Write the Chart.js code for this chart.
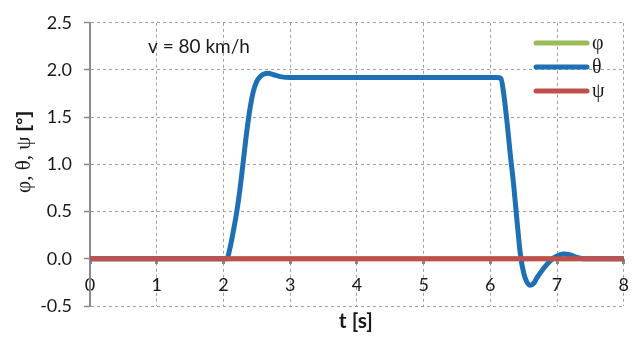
<!DOCTYPE html>
<html><head><meta charset="utf-8">
<script src="https://cdn.jsdelivr.net/npm/chart.js@4/dist/chart.umd.min.js"></script>
<style>html,body{margin:0;padding:0;background:#fff}#wrap{width:640px;height:338px}</style>
</head><body><div id="wrap"><canvas id="c" width="640" height="338"></canvas></div>
<script>
const seriesNames = ['φ', 'θ', 'ψ'];
const seriesColors = ['#9bbb59', '#1f6fb5', '#c0504d'];
const xTicks = [0, 1, 2, 3, 4, 5, 6, 7, 8];
const yTicks = [-0.5, 0, 0.5, 1, 1.5, 2, 2.5];
const annotation = 'v = 80 km/h';
const xTitle = 't [s]';
const yTitleGreek = 'φ, θ, ψ ';
const yTitleUnit = '[°]';
const phiT = [0, 8];
const phiV = [0, 0];
const psiT = [0, 8];
const psiV = [0, 0];
const thetaT = [0, 2.0, 2.05, 2.1, 2.15, 2.2, 2.25, 2.3, 2.35, 2.4, 2.45, 2.5, 2.55, 2.6, 2.67, 2.75, 2.85, 3.0, 4, 5, 6.1, 6.16, 6.2, 6.25, 6.3, 6.35, 6.4, 6.45, 6.5, 6.55, 6.6, 6.65, 6.7, 6.8, 6.9, 6.95, 7.05, 7.1, 7.2, 7.3, 7.4, 8];
const thetaV = [0, 0, 0, 0.12, 0.3, 0.5, 0.75, 1.05, 1.35, 1.6, 1.78, 1.88, 1.93, 1.955, 1.965, 1.95, 1.93, 1.92, 1.92, 1.92, 1.92, 1.91, 1.75, 1.45, 1.1, 0.78, 0.4, 0.05, -0.15, -0.25, -0.28, -0.26, -0.2, -0.1, -0.02, 0.01, 0.045, 0.05, 0.04, 0.015, 0, 0];

const pts = (t, v) => t.map((x, i) => ({x: x, y: v[i]}));

const overlay = {
  id: 'overlay',
  afterDatasetsDraw(chart) {
    const ctx = chart.ctx;
    const ca = chart.chartArea;
    ctx.save();
    ctx.fillStyle = '#1a1a1a';
    ctx.font = '19px Lato, "Open Sans", sans-serif';
    ctx.textBaseline = 'middle';
    ctx.textAlign = 'left';
    ctx.fillText(annotation, 148, 47);
    const ys = [43, 67, 91];
    seriesNames.forEach((n, i) => {
      ctx.strokeStyle = seriesColors[i];
      ctx.lineWidth = 5;
      ctx.lineCap = 'round';
      ctx.beginPath();
      ctx.moveTo(536, ys[i]);
      ctx.lineTo(587, ys[i]);
      ctx.stroke();
      ctx.fillStyle = '#1a1a1a';
      ctx.font = '20px "Liberation Serif", "DejaVu Serif", serif';
      ctx.fillText(n, 592, ys[i] + 1);
    });
    // x title
    ctx.font = 'bold 21px Lato, "Liberation Sans", sans-serif';
    ctx.textAlign = 'center';
    ctx.fillText(xTitle, (ca.left + ca.right) / 2 - 1, 321);
    // y title (rotated)
    ctx.translate(24, 152);
    ctx.rotate(-Math.PI / 2);
    ctx.textAlign = 'left';
    const fG = '21px "Liberation Serif", "DejaVu Serif", serif';
    const fU = 'bold 19px "Liberation Sans", Arial, sans-serif';
    ctx.font = fG; const wG = ctx.measureText(yTitleGreek).width;
    ctx.font = fU; const wU = ctx.measureText(yTitleUnit).width;
    const x0 = -(wG + wU) / 2;
    ctx.font = fG; ctx.fillText(yTitleGreek, x0, 0);
    ctx.font = fU; ctx.fillText(yTitleUnit, x0 + wG, 0);
    ctx.restore();
  }
};

new Chart(document.getElementById('c'), {
  type: 'line',
  data: {
    datasets: [
      {label: seriesNames[0], data: pts(phiT, phiV), borderColor: seriesColors[0], borderWidth: 5, pointRadius: 0, order: 2},
      {label: seriesNames[1], data: pts(thetaT, thetaV), borderColor: seriesColors[1], borderWidth: 5, pointRadius: 0, cubicInterpolationMode: 'monotone', order: 1, borderCapStyle: 'round', borderJoinStyle: 'round'},
      {label: seriesNames[2], data: pts(psiT, psiV), borderColor: seriesColors[2], borderWidth: 5, pointRadius: 0, order: 0}
    ]
  },
  options: {
    responsive: false,
    animation: false,
    layout: {padding: {left: 7, right: 2, top: 16, bottom: 32}},
    plugins: {
      legend: {display: false},
      tooltip: {enabled: false},
      title: {display: false}
    },
    scales: {
      x: {
        type: 'linear', min: 0, max: 8, position: {y: 0},
        afterBuildTicks: s => { s.ticks = xTicks.map(v => ({value: v})); },
        ticks: {color: '#1a1a1a', font: {family: 'Lato, "Open Sans", sans-serif', size: 18}, padding: 11, maxRotation: 0},
        grid: {color: '#a0a0a0', lineWidth: 1, tickLength: 5, tickColor: '#8a8a8a', tickWidth: 3, tickBorderDash: [1, 0]},
        border: {display: false, dash: [3, 3]}
      },
      y: {
        type: 'linear', min: -0.5, max: 2.5,
        afterBuildTicks: s => { s.ticks = yTicks.map(v => ({value: v})); },
        afterFit: s => { s.width = 83; },
        ticks: {color: '#1a1a1a', font: {family: 'Lato, "Open Sans", sans-serif', size: 18}, padding: 12, callback: v => v.toFixed(1)},
        grid: {color: '#a0a0a0', lineWidth: 1, tickLength: 6, tickColor: '#8a8a8a', tickWidth: 1.5, tickBorderDash: [1, 0]},
        border: {display: true, color: '#8a8a8a', width: 2, dash: [3, 3]},
        title: {display: false}
      }
    }
  },
  plugins: [overlay]
});
</script></body></html>
